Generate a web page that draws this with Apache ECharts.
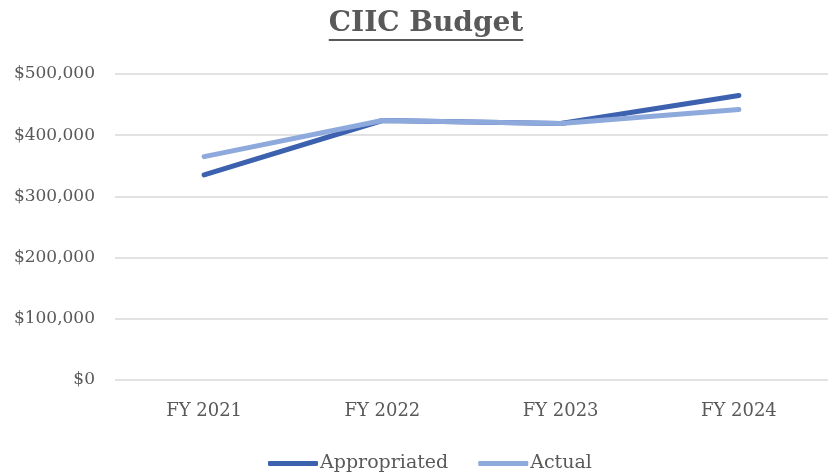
<!DOCTYPE html>
<html><head><meta charset="utf-8">
<script src="https://cdn.jsdelivr.net/npm/echarts@6/dist/echarts.min.js"></script>
<style>html,body{margin:0;padding:0;background:#fff}#c{width:835px;height:474px}</style>
</head><body><div id="c"></div>
<script>
const categories = ['FY 2021', 'FY 2022', 'FY 2023', 'FY 2024'];
const appropriated = [335000, 424000, 419000, 465000];
const actual = [365000, 424000, 419000, 442000];
const seriesNames = ['Appropriated', 'Actual'];
const titleText = 'CIIC Budget';

const FONT = 'DejaVu Serif';
const TXT = '#595959';
const chart = echarts.init(document.getElementById('c'));

const titleFont = 'bold 28px "' + FONT + '"';
const cv = document.createElement('canvas').getContext('2d');
cv.font = titleFont;
const tw = cv.measureText(titleText).width;
const cx = 426;

chart.setOption({
  backgroundColor: '#fff',
  animation: false,
  title: {
    text: titleText, left: cx - tw / 2, top: 10, padding: 0,
    textStyle: { fontFamily: FONT, fontWeight: 'bold', fontSize: 28, color: TXT }
  },
  graphic: [{
    type: 'line', shape: { x1: cx - tw / 2, y1: 40, x2: cx + tw / 2, y2: 40 },
    style: { stroke: TXT, lineWidth: 2 }
  }],
  grid: { left: 115, right: 7, top: 74, bottom: 94 },
  legend: {
    top: 449, left: 263, itemWidth: 50, itemHeight: 5, itemGap: 30,
    icon: 'roundRect',
    textStyle: { fontFamily: FONT, fontSize: 19, color: TXT, padding: [0, 0, 0, -3] },
    data: seriesNames
  },
  xAxis: {
    type: 'category', data: categories, boundaryGap: true,
    axisLine: { show: false }, axisTick: { show: false },
    axisLabel: { fontFamily: FONT, fontSize: 18, color: TXT, margin: 22 }
  },
  yAxis: {
    type: 'value', min: 0, max: 500000, interval: 100000,
    axisLine: { show: false }, axisTick: { show: false },
    splitLine: { lineStyle: { color: '#d9d9d9', width: 1.5 } },
    axisLabel: {
      fontFamily: FONT, fontSize: 17, color: TXT, margin: 20,
      formatter: v => '$' + v.toLocaleString('en-US')
    }
  },
  series: [
    { name: seriesNames[0], type: 'line', data: appropriated, showSymbol: false, symbol: 'none',
      color: '#3C61AF', lineStyle: { width: 5, cap: 'round', join: 'round' } },
    { name: seriesNames[1], type: 'line', data: actual, showSymbol: false, symbol: 'none',
      color: '#8EA9DB', lineStyle: { width: 5, cap: 'round', join: 'round' } }
  ]
});
</script></body></html>
